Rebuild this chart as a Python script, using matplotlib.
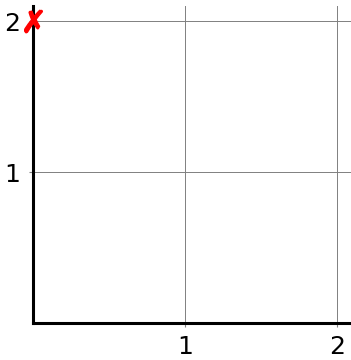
import matplotlib.pyplot as plt

# data
ticks = [1, 2]
point_x = [0]
point_y = [2]

plt.rcParams['font.family'] = ['DejaVu Sans']

fig = plt.figure(figsize=(3.51, 3.6), dpi=100)
ax = fig.add_axes([33 / 351, 37 / 360, 318 / 351, 317 / 360])

ax.set_xlim(0, 2.09)
ax.set_ylim(0, 2.1)
ax.set_xticks(ticks)
ax.set_yticks(ticks)
ax.set_xticklabels([str(t) for t in ticks])
ax.set_yticklabels([str(t) for t in ticks])
ax.tick_params(labelsize=18, length=3, width=0.8, color='gray', pad=6)

ax.grid(True, color='gray', linewidth=0.7)
ax.set_axisbelow(True)

for s in ['top', 'right']:
    ax.spines[s].set_visible(False)
for s in ['left', 'bottom']:
    ax.spines[s].set_linewidth(2.2)
    ax.spines[s].set_color('black')

ax.scatter(point_x, point_y, marker='$✗$', s=260, color='red', zorder=5, clip_on=False)

fig.savefig('out.png', dpi=100)
